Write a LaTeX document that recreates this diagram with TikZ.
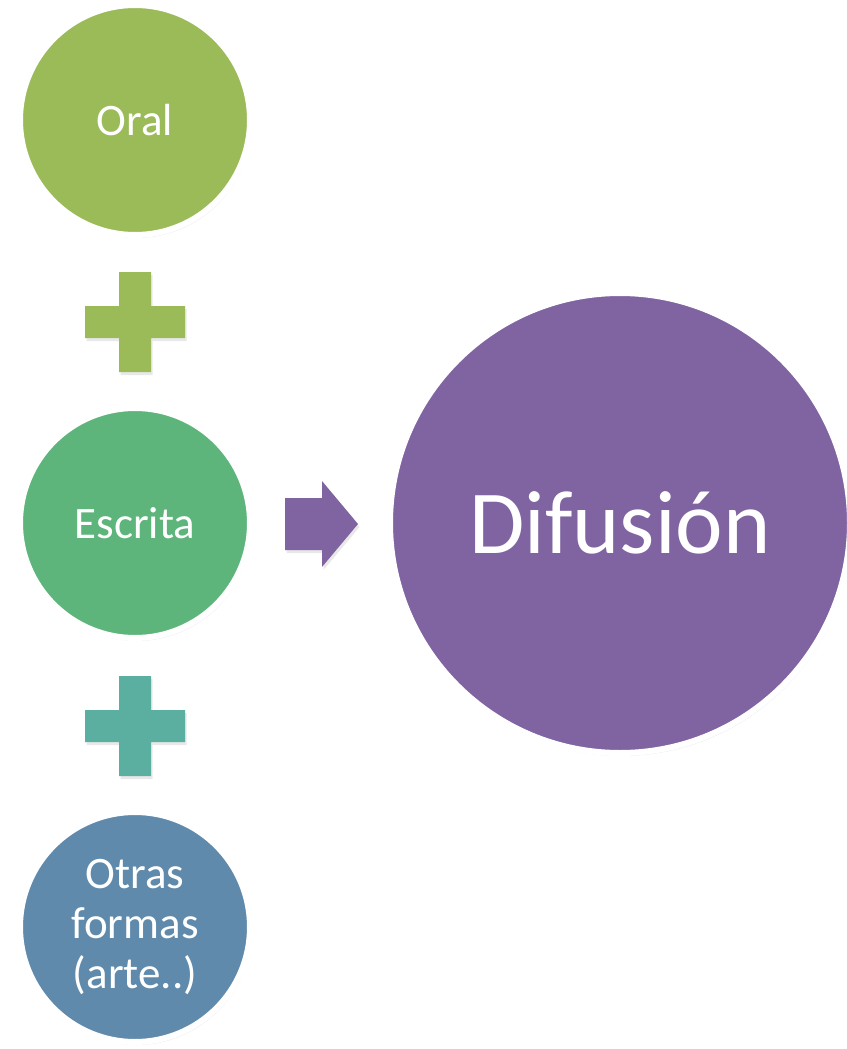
\documentclass[tikz,border=0pt]{standalone}
\usepackage{fontspec}
\setmainfont{Carlito}
\usetikzlibrary{shadows}
\definecolor{cOral}{HTML}{9BBB59}
\definecolor{cEscrita}{HTML}{5DB57B}
\definecolor{cTeal}{HTML}{5BAFA1}
\definecolor{cOtras}{HTML}{5F8AAC}
\definecolor{cDif}{HTML}{8064A2}
\tikzset{
  shade/.style={drop shadow={opacity=0.18, shadow xshift=1.5pt, shadow yshift=-3pt}},
  bubble/.style={circle, draw=white, line width=6pt, inner sep=0pt, minimum size=230pt,
    text=white, font=\fontsize{45}{50}\selectfont, align=center, shade},
  bigbubble/.style={bubble, minimum size=460pt, font=\fontsize{90}{100}\selectfont},
  plusshape/.style={shade}
}
\begin{document}
\begin{tikzpicture}[x=1pt,y=-1pt]
\useasboundingbox (0,0) rectangle (846,1049);
\node[bubble, fill=cOral] (oral) at (135,120) {Oral};
\node[bubble, fill=cEscrita] (escrita) at (135,523) {Escrita};
\node[bubble, fill=cOtras] (otras) at (135,927) {Otras\\formas\\(arte..)};
\node[bigbubble, fill=cDif] (dif) at (620,523) {Difusión};
% plus signs
\fill[cOral, plusshape] (119,272) -- (151,272) -- (151,306) -- (185,306) -- (185,338) -- (151,338) -- (151,372) -- (119,372) -- (119,338) -- (85,338) -- (85,306) -- (119,306) -- cycle;
\fill[cTeal, plusshape] (119,676) -- (151,676) -- (151,710) -- (185,710) -- (185,742) -- (151,742) -- (151,776) -- (119,776) -- (119,742) -- (85,742) -- (85,710) -- (119,710) -- cycle;
% arrow
\fill[cDif, shade] (285,498) -- (322,498) -- (322,481) -- (358,524) -- (322,567) -- (322,550) -- (285,550) -- cycle;
\end{tikzpicture}
\end{document}
